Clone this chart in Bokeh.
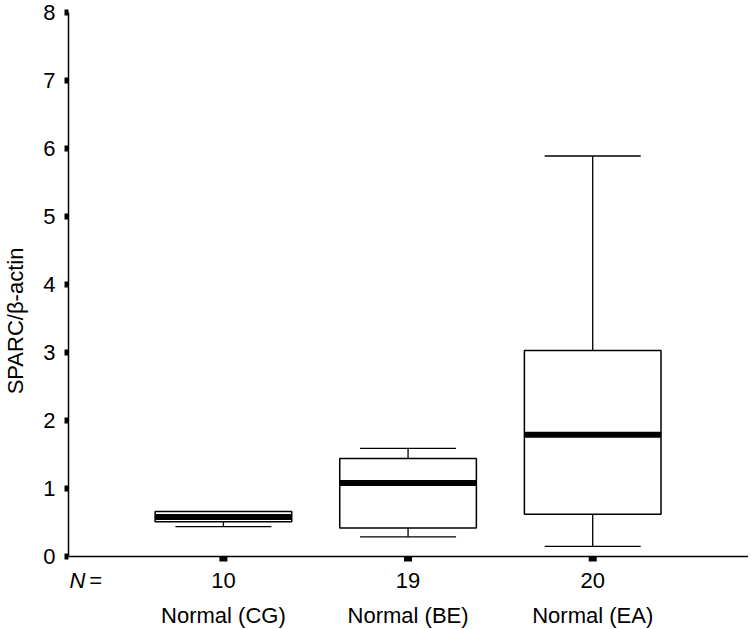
import numpy as np
from bokeh.plotting import figure
from bokeh.models import Range1d, FixedTicker
from bokeh.core.properties import value
from bokeh.embed import file_html
from bokeh.resources import INLINE

# ---- data ----
groups = ["Normal (CG)", "Normal (BE)", "Normal (EA)"]
counts = ["10", "19", "20"]
lower_whisker = [0.44, 0.29, 0.15]
q1 = [0.51, 0.42, 0.62]
median = [0.58, 1.08, 1.79]
q3 = [0.66, 1.44, 3.03]
upper_whisker = [0.66, 1.59, 5.89]
y_ticks = [0, 1, 2, 3, 4, 5, 6, 7, 8]

FONT = "Liberation Sans"
pos = np.arange(1, len(groups) + 1)
box_w = 0.74
cap_w = 0.52

# layout constants
W, H = 748, 629
border_left, border_top = 63, 12
px_x = 186.0
px_y = (556 - border_top) / 8
x_start = 0.161
x_end = x_start + (W - border_left) / px_x
y_top = 8
y_bottom = -(H - 556) / px_y
count_y = -24 / px_y
group_y = -59 / px_y
tick_y = -2.5 / px_y

p = figure(width=W, height=H, output_backend="svg", toolbar_location=None,
           x_range=Range1d(x_start, x_end), y_range=Range1d(y_bottom, y_top),
           x_axis_location=None,
           min_border_left=border_left, min_border_right=0,
           min_border_top=border_top, min_border_bottom=0)
p.grid.visible = False
p.outline_line_color = None
p.background_fill_color = "white"
p.border_fill_color = "white"

# bottom axis line and tick marks
p.segment(x0=[x_start], y0=[0], x1=[x_end], y1=[0], line_color="black", line_width=1.5)
p.rect(x=pos, y=[tick_y] * len(pos), width=8, height=5, width_units="screen",
       height_units="screen", fill_color="black", line_color=None)

# whiskers
p.segment(x0=pos, y0=q3, x1=pos, y1=upper_whisker, line_color="black", line_width=1.3)
p.segment(x0=pos, y0=q1, x1=pos, y1=lower_whisker, line_color="black", line_width=1.3)
p.segment(x0=pos - cap_w / 2, y0=upper_whisker, x1=pos + cap_w / 2, y1=upper_whisker,
          line_color="black", line_width=1.3)
p.segment(x0=pos - cap_w / 2, y0=lower_whisker, x1=pos + cap_w / 2, y1=lower_whisker,
          line_color="black", line_width=1.3)
# boxes
p.vbar(x=pos, width=box_w, bottom=q1, top=q3, fill_color="white",
       line_color="black", line_width=1.5)
# medians
p.segment(x0=pos - box_w / 2, y0=median, x1=pos + box_w / 2, y1=median,
          line_color="black", line_width=6)

# count and group labels
p.text(x=pos, y=[count_y] * len(pos), text=counts, text_font=value(FONT),
       text_font_size=value("22px"), text_align="center", text_baseline="middle",
       text_color="black")
p.text(x=pos, y=[group_y] * len(pos), text=groups, text_font=value(FONT),
       text_font_size=value("22px"), text_align="center", text_baseline="middle",
       text_color="black")
p.text(x=[x_start + 1 / px_x], y=[count_y], text=["N"], text_font=value(FONT),
       text_font_size=value("22px"), text_font_style="italic", text_align="left",
       text_baseline="middle", text_color="black")
p.text(x=[x_start + 21 / px_x], y=[count_y], text=["="], text_font=value(FONT),
       text_font_size=value("22px"), text_align="left", text_baseline="middle",
       text_color="black")

# y axis
ya = p.yaxis[0]
ya.ticker = FixedTicker(ticks=y_ticks)
ya.bounds = (0, y_top)
ya.minor_tick_line_color = None
ya.major_tick_in = 0
ya.major_tick_out = 4
ya.major_tick_line_width = 6
ya.axis_line_width = 1.5
ya.major_label_standoff = 9
ya.major_label_text_font = FONT
ya.major_label_text_font_size = "22px"
ya.major_label_text_color = "black"
ya.axis_label = "SPARC/β-actin"
ya.axis_label_text_font = FONT
ya.axis_label_text_font_size = "22px"
ya.axis_label_text_font_style = "normal"
ya.axis_label_text_color = "black"
ya.axis_label_standoff = 12

open("out.html", "w").write(file_html(p, INLINE))
